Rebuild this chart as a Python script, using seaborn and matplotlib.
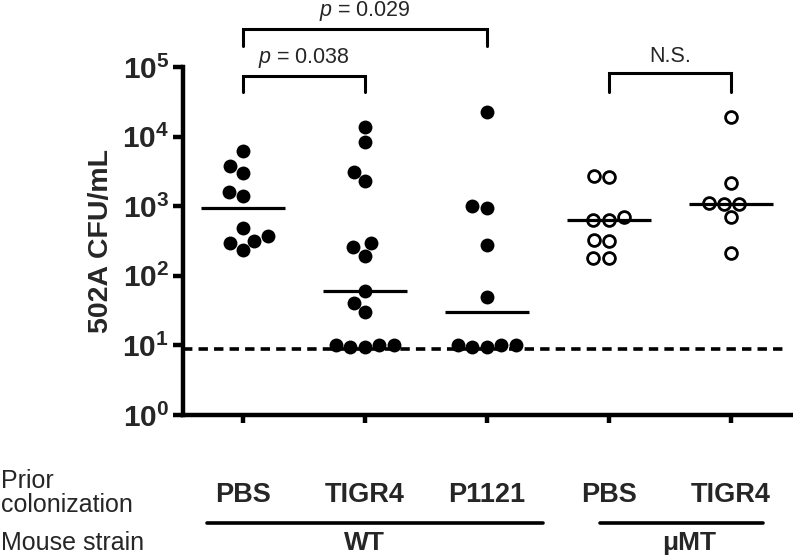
import numpy as np
import pandas as pd
import seaborn as sns
import matplotlib
matplotlib.use("Agg")
from matplotlib import pyplot as plt
from matplotlib import ticker, transforms, font_manager

# groups along x, and what is printed below them
groups = ["WT PBS", "WT TIGR4", "WT P1121", "uMT PBS", "uMT TIGR4"]
tick_labels = ["PBS", "TIGR4", "P1121", "PBS", "TIGR4"]
strain_of = ["WT", "WT", "WT", "μMT", "μMT"]

# 502A CFU/mL
wt_pbs = [6300, 3800, 3000, 1600, 1400, 490, 370, 315, 300, 235]
wt_tigr4 = [13700, 8300, 3100, 2300, 295, 260, 195, 60, 41, 30, 10, 10, 9.5, 9.5, 10]
wt_p1121 = [22600, 1000, 930, 275, 50, 10, 10, 9.5, 10, 9.5]
mt_pbs = [2760, 2600, 700, 630, 630, 330, 316, 180, 180]
mt_tigr4 = [19000, 2180, 1100, 1090, 1060, 690, 215]
detection_limit = 9

# p-value brackets: (left group, right group, text)
brackets = [(0, 2, "0.029"), (0, 1, "0.038")]
ns_bracket = (3, 4, "N.S.")

values = [wt_pbs, wt_tigr4, wt_p1121, mt_pbs, mt_tigr4]
df = pd.concat([pd.DataFrame({"group": g, "strain": s, "cfu": v})
                for g, s, v in zip(groups, strain_of, values)], ignore_index=True)

sns.set_style("ticks")
names = {f.name for f in font_manager.fontManager.ttflist}
narrow = "Liberation Sans Narrow" if "Liberation Sans Narrow" in names else "Liberation Sans"
plt.rcParams["font.family"] = ["Liberation Sans", "DejaVu Sans"]
plt.rcParams["mathtext.fontset"] = "custom"
plt.rcParams["mathtext.bf"] = "Liberation Sans:bold"
plt.rcParams["mathtext.rm"] = "Liberation Sans"
plt.rcParams["mathtext.it"] = "Liberation Sans:italic"

fig = plt.figure(figsize=(7.93, 5.59), dpi=100)
ax = fig.add_axes([183 / 793, 1 - 415 / 559, 610 / 793, 348 / 559])
ax.set_yscale("log")
ax.set_ylim(1, 1e5)

sns.swarmplot(data=df[df.strain == "WT"], x="group", y="cfu", order=groups,
              color="black", size=10, ax=ax, zorder=2)
sns.swarmplot(data=df[df.strain == "μMT"], x="group", y="cfu", order=groups,
              color="white", edgecolor="black", linewidth=2, size=8.5, ax=ax, zorder=2)

# median lines
med = df.groupby("group")["cfu"].median().reindex(groups)
pos = np.arange(len(groups))
ax.hlines(med.values, pos - 0.345, pos + 0.345, color="black", lw=2.3, zorder=3)

ax.axhline(detection_limit, xmin=0, xmax=0.987, color="black", lw=2.6,
           ls=(0, (2.6, 1.7)), zorder=1)

ax.set_xlim(-0.49, 4.51)
ax.yaxis.set_major_locator(ticker.LogLocator(base=10, numticks=10))
ax.yaxis.set_minor_locator(ticker.NullLocator())
ax.yaxis.set_major_formatter(ticker.FuncFormatter(
    lambda v, p: r"$\mathbf{10^{%d}}$" % round(np.log10(v))))
ax.set_xticks(pos)
ax.set_xticklabels(tick_labels, fontfamily=narrow, fontweight="bold", fontsize=19.5)
ax.tick_params(axis="y", length=7, width=3.2, labelsize=21.5, pad=3, color="black")
ax.tick_params(axis="x", length=6, width=3.2, pad=42, color="black")
for s in ["left", "bottom"]:
    ax.spines[s].set_linewidth(3.2)
    ax.spines[s].set_color("black")
sns.despine(ax=ax)
ax.set_xlabel("")
ax.set_ylabel("502A CFU/mL", fontsize=20.5, fontweight="bold", labelpad=6)

# significance brackets above the axes
tr = ax.get_xaxis_transform()
for (a, b, p), (top, leg) in zip(brackets, [(1.109, 1.060), (0.974, 0.928)]):
    ax.plot([a, a, b, b], [leg, top, top, leg], color="black", lw=2.2,
            transform=tr, clip_on=False, solid_joinstyle="miter")
    ax.text((a + b) / 2, top + 0.018, r"$\mathit{p}$ = " + p, transform=tr,
            ha="center", va="bottom", fontsize=15.5)
a, b, t = ns_bracket
ax.plot([a, a, b, b], [0.928, 0.983, 0.983, 0.928], color="black", lw=2.2,
        transform=tr, clip_on=False, solid_joinstyle="miter")
ax.text((a + b) / 2, 0.983 + 0.018, t, transform=tr, ha="center", va="bottom", fontsize=15.5)

# rows under the x axis
under = transforms.blended_transform_factory(ax.transData, fig.transFigure)
fig.text(1 / 793, 1 - 493 / 559, "Prior\ncolonization", fontfamily=narrow,
         fontsize=18, va="center", ha="left", linespacing=1.05)
fig.text(1 / 793, 1 - 543 / 559, "Mouse strain", fontfamily=narrow,
         fontsize=18, va="center", ha="left")
for x0, x1, name, xc in [(-0.29, 2.46, "WT", 1.0), (2.93, 4.26, "μMT", 3.66)]:
    ax.plot([x0, x1], [1 - 523 / 559] * 2, color="black", lw=2.6,
            transform=under, clip_on=False)
    ax.text(xc, 1 - 543 / 559, name, transform=under, fontfamily=narrow,
            fontweight="bold", fontsize=19, ha="center", va="center")

fig.savefig("out.png", dpi=100)
